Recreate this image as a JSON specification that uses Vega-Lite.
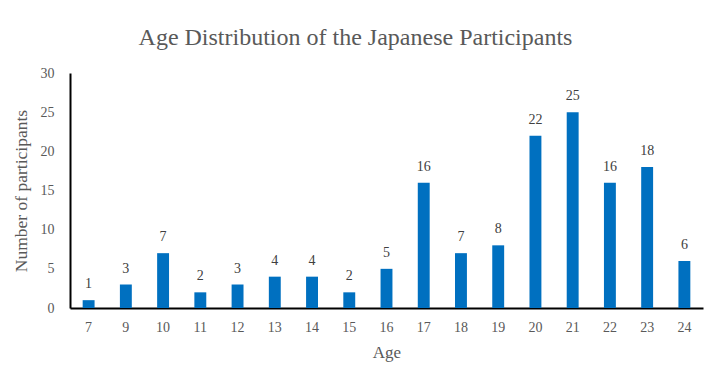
{
  "$schema": "https://vega.github.io/schema/vega-lite/v6.json",
  "autosize": "none",
  "width": 633,
  "height": 235,
  "padding": {"left": 70, "top": 73, "right": 17, "bottom": 74},
  "background": "white",
  "title": {
    "text": "Age Distribution of the Japanese Participants",
    "font": "Liberation Serif",
    "fontSize": 24,
    "fontWeight": "normal",
    "color": "#595959",
    "anchor": "middle",
    "dx": -31,
    "offset": 16
  },
  "data": {
    "values": [
      {"age": "7", "n": 1},
      {"age": "9", "n": 3},
      {"age": "10", "n": 7},
      {"age": "11", "n": 2},
      {"age": "12", "n": 3},
      {"age": "13", "n": 4},
      {"age": "14", "n": 4},
      {"age": "15", "n": 2},
      {"age": "16", "n": 5},
      {"age": "17", "n": 16},
      {"age": "18", "n": 7},
      {"age": "19", "n": 8},
      {"age": "20", "n": 22},
      {"age": "21", "n": 25},
      {"age": "22", "n": 16},
      {"age": "23", "n": 18},
      {"age": "24", "n": 6}
    ]
  },
  "encoding": {
    "x": {
      "field": "age",
      "type": "ordinal",
      "sort": null,
      "title": "Age",
      "scale": {"paddingInner": 0.68, "paddingOuter": 0.34},
      "axis": {
        "labelAngle": 0,
        "ticks": false,
        "domainColor": "#000000",
        "domainWidth": 2,
        "labelFont": "Liberation Serif",
        "labelFontSize": 14,
        "labelColor": "#595959",
        "labelPadding": 12,
        "titleFont": "Liberation Serif",
        "titleFontSize": 17,
        "titleFontWeight": "normal",
        "titleColor": "#595959",
        "titlePadding": 10
      }
    },
    "y": {
      "field": "n",
      "type": "quantitative",
      "title": "Number of participants",
      "scale": {"domain": [0, 30]},
      "axis": {
        "values": [0, 5, 10, 15, 20, 25, 30],
        "grid": false,
        "ticks": false,
        "domainColor": "#000000",
        "domainWidth": 2,
        "labelFont": "Liberation Serif",
        "labelFontSize": 14,
        "labelColor": "#595959",
        "labelPadding": 16,
        "titleFont": "Liberation Serif",
        "titleFontSize": 17.5,
        "titleFontWeight": "normal",
        "titleColor": "#595959",
        "titlePadding": 10
      }
    }
  },
  "layer": [
    {"mark": {"type": "bar", "color": "#0070C0"}},
    {
      "mark": {
        "type": "text",
        "dy": -16,
        "font": "Liberation Serif",
        "fontSize": 14,
        "color": "#404040"
      },
      "encoding": {"text": {"field": "n", "type": "quantitative"}}
    }
  ],
  "config": {"view": {"stroke": null}}
}
